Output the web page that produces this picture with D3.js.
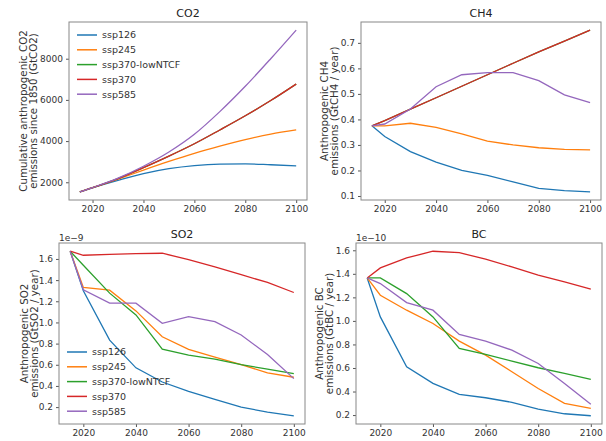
<!DOCTYPE html>
<html>
<head>
<meta charset="utf-8">
<script src="https://cdn.jsdelivr.net/npm/d3@7"></script>
<style>
  body { margin: 0; background: #fff; }
  svg { font-family: "DejaVu Sans", sans-serif; }
</style>
</head>
<body>
<div class="graph"></div>
<script>
// years of the scenario data
const years = [2015, 2020, 2030, 2040, 2050, 2060, 2070, 2080, 2090, 2100];
const scenarios = ['ssp126', 'ssp245', 'ssp370-lowNTCF', 'ssp370', 'ssp585'];
const colors = ['#1f77b4', '#ff7f0e', '#2ca02c', '#d62728', '#9467bd'];
const xTicks = [2020, 2040, 2060, 2080, 2100];

// CO2 cumulative (GtCO2)
const co2_ssp126 = [1532, 1730, 2090, 2420, 2660, 2810, 2880, 2890, 2850, 2800];
const co2_ssp245 = [1532, 1735, 2150, 2590, 3010, 3400, 3750, 4070, 4340, 4540];
const co2_lowNTCF = [1532, 1735, 2180, 2710, 3270, 3870, 4540, 5230, 5970, 6770];
const co2_ssp370 = [1532, 1735, 2180, 2710, 3270, 3870, 4540, 5230, 5970, 6770];
const co2_ssp585 = [1532, 1740, 2200, 2780, 3470, 4330, 5430, 6660, 8000, 9390];
const co2Ticks = [2000, 4000, 6000, 8000];

// CH4 (GtCH4 / year)
const ch4_ssp126 = [0.375, 0.333, 0.274, 0.233, 0.200, 0.181, 0.155, 0.130, 0.121, 0.116];
const ch4_ssp245 = [0.375, 0.375, 0.385, 0.369, 0.343, 0.315, 0.300, 0.289, 0.283, 0.281];
const ch4_lowNTCF = [0.375, 0.395, 0.440, 0.485, 0.530, 0.575, 0.620, 0.665, 0.707, 0.750];
const ch4_ssp370 = [0.375, 0.395, 0.440, 0.485, 0.530, 0.575, 0.620, 0.665, 0.707, 0.750];
const ch4_ssp585 = [0.375, 0.382, 0.441, 0.528, 0.575, 0.583, 0.583, 0.552, 0.496, 0.466];
const ch4Ticks = [0.1, 0.2, 0.3, 0.4, 0.5, 0.6, 0.7];

// SO2 (x 1e-9 GtSO2 / year)
const so2_ssp126 = [1.673, 1.300, 0.833, 0.571, 0.437, 0.349, 0.273, 0.200, 0.152, 0.118];
const so2_ssp245 = [1.673, 1.331, 1.305, 1.109, 0.865, 0.745, 0.672, 0.602, 0.523, 0.482];
const so2_lowNTCF = [1.673, 1.540, 1.277, 1.071, 0.748, 0.691, 0.653, 0.602, 0.558, 0.517];
const so2_ssp370 = [1.673, 1.635, 1.644, 1.651, 1.654, 1.594, 1.524, 1.451, 1.378, 1.283];
const so2_ssp585 = [1.673, 1.309, 1.182, 1.182, 0.992, 1.055, 1.008, 0.881, 0.697, 0.469];
const so2Ticks = [0.2, 0.4, 0.6, 0.8, 1.0, 1.2, 1.4, 1.6];

// BC (x 1e-10 GtBC / year)
const bc_ssp126 = [1.365, 1.034, 0.610, 0.469, 0.375, 0.347, 0.308, 0.251, 0.211, 0.194];
const bc_ssp245 = [1.365, 1.218, 1.091, 0.978, 0.828, 0.709, 0.568, 0.426, 0.299, 0.257];
const bc_lowNTCF = [1.365, 1.365, 1.232, 1.034, 0.766, 0.715, 0.658, 0.602, 0.554, 0.503];
const bc_ssp370 = [1.365, 1.450, 1.535, 1.592, 1.580, 1.524, 1.459, 1.388, 1.331, 1.269];
const bc_ssp585 = [1.365, 1.317, 1.156, 1.091, 0.885, 0.828, 0.752, 0.638, 0.469, 0.291];
const bcTicks = [0.2, 0.4, 0.6, 0.8, 1.0, 1.2, 1.4, 1.6];

const panels = [
  { title: 'CO2', series: [co2_ssp126, co2_ssp245, co2_lowNTCF, co2_ssp370, co2_ssp585],
    yTicks: co2Ticks, fmt: d3.format('d'), curve: d3.curveMonotoneX,
    ylabel: ['Cumulative anthropogenic CO2', 'emissions since 1850 (GtCO2)'],
    box: { l: 69, t: 22, w: 238, h: 178 }, labX: 23, legend: 'top' },
  { title: 'CH4', series: [ch4_ssp126, ch4_ssp245, ch4_lowNTCF, ch4_ssp370, ch4_ssp585],
    yTicks: ch4Ticks, fmt: d3.format('.1f'), curve: d3.curveLinear,
    ylabel: ['Anthropogenic CH4', 'emissions (GtCH4 / year)'],
    box: { l: 361, t: 22, w: 240, h: 178 }, labX: 324 },
  { title: 'SO2', series: [so2_ssp126, so2_ssp245, so2_lowNTCF, so2_ssp370, so2_ssp585],
    yTicks: so2Ticks, fmt: d3.format('.1f'), curve: d3.curveLinear, exp: '1e\u22129',
    ylabel: ['Anthropogenic SO2', 'emissions (GtSO2 / year)'],
    box: { l: 59, t: 243, w: 246, h: 181 }, labX: 24, legend: 'bottom' },
  { title: 'BC', series: [bc_ssp126, bc_ssp245, bc_lowNTCF, bc_ssp370, bc_ssp585],
    yTicks: bcTicks, fmt: d3.format('.1f'), curve: d3.curveLinear, exp: '1e\u221210',
    ylabel: ['Anthropogenic BC', 'emissions (GtBC / year)'],
    box: { l: 356, t: 243, w: 246, h: 181 }, labX: 319 }
];

const svg = d3.select('.graph').append('svg').attr('width', 606).attr('height', 441);

// matplotlib-like 5% margins
const pad = ext => { const d = (ext[1] - ext[0]) * 0.05; return [ext[0] - d, ext[1] + d]; };

panels.forEach(p => {
  const b = p.box;
  const g = svg.append('g').attr('transform', `translate(${b.l},${b.t})`);
  const x = d3.scaleLinear().domain(pad(d3.extent(years))).range([0, b.w]);
  const y = d3.scaleLinear().domain(pad(d3.extent(p.series.flat()))).range([b.h, 0]);

  const line = d3.line().x((d, i) => x(years[i])).y(d => y(d)).curve(p.curve);
  g.selectAll('path.series')
    .data(p.series)
    .enter()
    .append('path')
    .attr('class', 'series')
    .attr('d', line)
    .attr('fill', 'none')
    .attr('stroke', (d, i) => colors[i])
    .attr('stroke-width', 1.3);

  const xAxis = g.append('g').attr('transform', `translate(0,${b.h})`)
    .call(d3.axisBottom(x).tickValues(xTicks).tickFormat(d3.format('d')).tickSize(3).tickSizeOuter(0).tickPadding(3));
  const yAxis = g.append('g')
    .call(d3.axisLeft(y).tickValues(p.yTicks).tickFormat(p.fmt).tickSize(3).tickSizeOuter(0).tickPadding(3));
  [xAxis, yAxis].forEach(a => {
    a.select('.domain').remove();
    a.selectAll('line').attr('stroke', '#555');
    a.selectAll('text').attr('fill', '#333').style('font-size', '9px').style('font-family', 'DejaVu Sans');
  });

  g.append('rect').attr('width', b.w).attr('height', b.h)
    .attr('fill', 'none').attr('stroke', '#888').attr('stroke-width', 1);

  svg.append('text').attr('x', b.l + b.w / 2).attr('y', b.t - 5)
    .attr('text-anchor', 'middle').style('font-size', '11px').attr('fill', '#222').text(p.title);

  if (p.exp) {
    svg.append('text').attr('x', b.l).attr('y', b.t - 2)
      .style('font-size', '9px').attr('fill', '#333').text(p.exp);
  }

  const cy = b.t + b.h / 2;
  p.ylabel.forEach((t, i) => {
    svg.append('text')
      .attr('transform', `translate(${p.labX + i * 10},${cy}) rotate(-90)`)
      .attr('text-anchor', 'middle').attr('dy', '0.35em')
      .style('font-size', '10.3px').attr('fill', '#333').text(t);
  });

  if (p.legend) {
    const ly0 = p.legend === 'top' ? 13 : b.h - 72;
    const lg = g.append('g').attr('transform', `translate(8,${ly0})`);
    scenarios.forEach((s, i) => {
      const row = lg.append('g').attr('transform', `translate(0,${i * 14.8})`);
      row.append('line').attr('x1', 0).attr('x2', 20).attr('stroke', colors[i]).attr('stroke-width', 1.5);
      row.append('text').attr('x', 25).attr('dy', '0.35em')
        .style('font-size', '9.5px').attr('fill', '#333').text(s);
    });
  }
});
</script>
</body>
</html>
